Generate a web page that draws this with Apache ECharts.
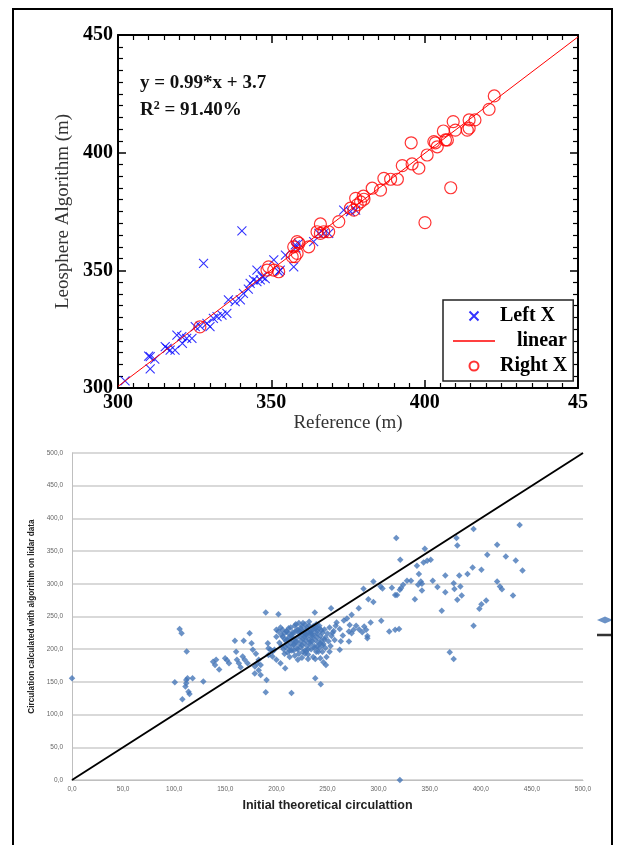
<!DOCTYPE html>
<html>
<head>
<meta charset="utf-8">
<script src="https://cdn.jsdelivr.net/npm/echarts@6/dist/echarts.min.js"></script>
<style>html,body{margin:0;padding:0;background:#fff}#c{width:618px;height:845px}</style>
</head>
<body>
<div id="c"></div>
<script>
// ---------- Top chart data ----------
const topXTicks = ['300', '350', '400', '45'];
const topYTicks = ['300', '350', '400', '450'];
const leftXRef = [302.3,310.5,310,312,310.5,315.4,317,318.6,316,319.2,320.8,322.4,324.1,325.2,326.8,329,330,331.1,332.3,333.9,335.5,336,338.2,339.9,340.9,343.1,344.2,345.3,346.4,347,345.3,327.9,340.4,350.8,352.4,352.9,357.3,357.8,358.9,354.6,363.8,365.5,367.1,368.7,373.6,375.8,377.5,358,342.5,348,321];
const leftXAlg = [303.0,313.3,313.5,312.3,308.1,317.6,316.1,316.1,316.8,322.5,321.8,321.1,321.1,326.1,326.3,327.5,326.1,329.6,330.3,331,331.7,337.4,336.7,337.4,340.2,344.5,345.9,345.2,345.9,347.3,350.1,353.0,366.8,354.4,349.4,350.1,351.5,360.8,361.5,356.5,362.2,365.7,365.7,365.7,375.6,374.9,375.6,359.5,342,346.5,319];
const rightXRef = [326.7,349.1,350.8,348.6,352.4,356.8,357.7,358.4,357.3,358.4,359,362.2,364.9,366,367.1,368.7,366,372,375.8,376.9,378,379.1,377.5,380.2,380,382.9,385.6,386.7,388.9,391.1,392.7,395.9,398.1,400.8,403.5,404.1,403,406.8,407.4,406.1,410,409.3,413.9,414.5,416.4,414.5,421,422.7,395.6,408.5,400.1];
const rightXAlg = [326,351.5,350.1,350.1,349.4,355.8,355.8,357.2,360,362.2,361.5,360,366.4,365.7,366.4,366.4,369.7,370.7,376.4,375.6,377.8,379.1,380.6,380.2,381.5,384.9,384.1,389.1,388.7,388.7,394.5,395.2,393.4,399,404.2,402.5,404.7,405.4,405.4,409.2,409.6,413.2,409.6,413.9,413.9,410.4,418.4,424.1,404.2,385.1,370.3];
const linearRef = [300, 450];
const linearAlg = [300.7, 449.2];

// ---------- Bottom chart data ----------
const botTicks = ['0,0','50,0','100,0','150,0','200,0','250,0','300,0','350,0','400,0','450,0','500,0'];
const circX = [0,100.6,105.3,107.2,112.2,108,111.8,111.8,113,111,114,115,118,128.5,
138,140,144,141,149.8,151.7,153.6,159.4,160.6,161.4,163.3,165,167,169,171.8,168,173.8,175.7,176.9,180,182.7,179,181,184.6,182.7,178.8,184.6,189.6,190.4,189.6,191.6,192.3,194.3,196.2,192.3,196.2,200,198.1,202,200,202,204,206,208,200,206,209.9,204,208.6,214.8,
203,205,207,209,210,211,212,213,214,215,215,216,217,218,218,219,220,220,221,222,222,223,224,224,225,225,226,227,227,228,229,229,230,230,231,232,232,233,233,234,235,235,236,236,237,237,238,239,239,240,240,241,242,242,243,244,245,245,246,247,248,248,250,251,252,253,254,256,257,212,219,226,231,213,221,238,243,208,217,228,223,229,234,240,226,231,
205,208,210,212,214,216,218,220,222,224,226,228,230,232,234,236,238,240,242,244,211,215,219,223,227,231,235,239,243,247,209,213,217,221,225,229,233,237,241,245,
237.6,238,243.4,248.5,253.5,258.9,262,269,271.7,270.9,271,273.6,275.5,273.6,280.6,285.2,285.9,287.8,289,289,290,294.9,294.9,292.2,301.9,303.8,302.6,310.4,313,316.2,318,317.3,316.2,320,321.2,322,320.8,320.8,324,327.8,331.7,335.5,337.5,339.4,338.7,341.3,342.4,342.4,344,347.5,345.2,351,353,357.6,361.8,365.3,365.3,369.6,373.5,373.5,374.2,376.2,377,377,380,378.9,381.3,387,392,392.9,392.9,398.6,400.6,400.6,405.3,406.3,416,416,418.7,420.7,424.5,431.5,434.2,438,440.8,
255,258,262,265,266,278,281,284,263,252,249,246];
const circY = [155.6,149.5,231,224.5,196.4,123.5,153,148,155.6,143,135,131.6,155.6,150.5,
181,176,169,184,186,183,178.6,213,196,184,178.6,172.4,189,184,178.6,213,224.5,209,199,193,184,173.5,178.6,176,168,163,160.7,256,153,134,209,201.5,199,196.4,191,189,184,199,253.6,229.6,227,233,229.6,224.5,219,219,227,178.6,171,133,
210,205,200,213,207,195,218,203,209,222,198,214,206,226,190,211,217,201,230,208,193,220,213,203,235,187,216,209,224,198,213,230,205,220,192,215,236,208,226,200,218,212,230,188,222,205,214,238,196,218,228,210,202,232,220,214,225,196,208,230,218,202,224,212,233,205,220,228,214,232,238,240,185,188,184,185,186,193,198,193,228,222,224,204,196,200,
222,216,228,224,233,226,236,229,240,232,227,238,233,242,228,235,231,224,236,229,214,219,212,224,219,226,221,233,209,215,203,198,207,200,206,197,211,202,196,206,
256,155.6,146.4,176,262.8,241,199,247,237,227,211.7,252.6,229.6,224.5,262.8,292.3,234.7,229.6,220,216.8,276.5,272,303.6,240.8,296,293,243.4,227,294,283,283,370,229.6,231,336.7,293.4,291,0,298.5,304.6,304.6,276.5,327.6,314.8,298.5,303.6,300,289.8,332.6,335.2,353.6,336.7,304.6,295,258.7,312.8,287.2,195.4,185,301,292,370,358.7,275.5,296,312.8,282,314.8,325,383.7,235.7,261.7,268.9,321.4,274.5,344.4,359.7,303.6,296,291.8,341.8,282,335.7,390,320.4,
225,236,231,221,244,236,230,226,212,196,188,180];
const idealX = [0, 500];
const idealY = [0, 500];

const zip = (a, b) => a.map((v, i) => [v, b[i]]);

const serif = 'Liberation Serif';
const lineIcon = 'path://M0,0L40,0L40,1.4L0,1.4Z';
const thickLineIcon = 'path://M0,0L16,0L16,2.5L0,2.5Z';
const topTickCommon = {
  axisLine: { show: true, lineStyle: { color: '#000', width: 2 } },
  axisTick: { show: true, inside: true, length: 8, lineStyle: { color: '#000', width: 1.5 } },
  minorTick: { show: true, splitNumber: 10, length: 5, lineStyle: { color: '#000', width: 1.2 } },
  splitLine: { show: false },
  min: 300, max: 450, interval: 50
};

const chart = echarts.init(document.getElementById('c'), null, { renderer: 'canvas' });
chart.setOption({
  backgroundColor: '#fff',
  animation: false,
  grid: [
    { left: 118, top: 35, width: 460, height: 353, containLabel: false, outerBoundsMode: 'none' },
    { left: 72, top: 453, width: 511, height: 327, containLabel: false, outerBoundsMode: 'none' }
  ],
  xAxis: [
    Object.assign({}, topTickCommon, {
      type: 'value', gridIndex: 0, position: 'bottom',
      name: 'Reference (m)', nameLocation: 'middle', nameGap: 20,
      nameTextStyle: { fontFamily: serif, fontSize: 19, color: '#333', verticalAlign: 'top' },
      axisLabel: { margin: 5, fontFamily: serif, fontWeight: 'bold', fontSize: 20, color: '#000',
        formatter: v => topXTicks[Math.round((v - 300) / 50)] }
    }),
    Object.assign({}, topTickCommon, {
      type: 'value', gridIndex: 0, position: 'top', axisLabel: { show: false }
    }),
    {
      type: 'value', gridIndex: 1, min: 0, max: 500, interval: 50,
      name: 'Initial theoretical circulattion', nameLocation: 'middle', nameGap: 19,
      nameTextStyle: { fontFamily: 'Liberation Sans', fontWeight: 'bold', fontSize: 12.5, color: '#222', verticalAlign: 'top' },
      axisLine: { show: true, lineStyle: { color: '#bfbfbf', width: 1 } },
      axisTick: { show: false },
      splitLine: { show: false },
      axisLabel: { margin: 6, fontFamily: 'Liberation Sans', fontSize: 6.5, color: '#666',
        formatter: v => botTicks[Math.round(v / 50)] }
    }
  ],
  yAxis: [
    Object.assign({}, topTickCommon, {
      type: 'value', gridIndex: 0, position: 'left',
      name: 'Leosphere Algorithm (m)', nameLocation: 'middle', nameGap: 43,
      nameTextStyle: { fontFamily: serif, fontSize: 19, color: '#333' },
      axisLabel: { margin: 5, fontFamily: serif, fontWeight: 'bold', fontSize: 20, color: '#000',
        formatter: v => topYTicks[Math.round((v - 300) / 50)] }
    }),
    Object.assign({}, topTickCommon, {
      type: 'value', gridIndex: 0, position: 'right', axisLabel: { show: false }
    }),
    {
      type: 'value', gridIndex: 1, min: 0, max: 500, interval: 50,
      name: 'Circulation calculated with algorithm on lidar data', nameLocation: 'middle', nameGap: 31,
      nameTextStyle: { fontFamily: 'Liberation Sans', fontWeight: 'bold', fontSize: 8.2, color: '#222' },
      axisLine: { show: true, lineStyle: { color: '#bfbfbf', width: 1 } },
      axisTick: { show: false },
      splitLine: { show: true, lineStyle: { color: '#d9d9d9', width: 2 } },
      axisLabel: { margin: 9, fontFamily: 'Liberation Sans', fontSize: 6.5, color: '#666',
        formatter: v => botTicks[Math.round(v / 50)] }
    }
  ],
  legend: [
    {
      data: [{ name: 'Left X' }, { name: 'linear', icon: lineIcon, itemStyle: { color: '#ff0000' } }, { name: 'Right X' }],
      orient: 'vertical', left: 443, top: 300,
      itemWidth: 42, itemHeight: 9, itemGap: 5,
      padding: [6, 6, 5, 10],
      borderColor: '#222', borderWidth: 1.5, backgroundColor: '#fff',
      selectedMode: false,
      textStyle: { fontFamily: serif, fontWeight: 'bold', fontSize: 20, color: '#000',
        rich: { p: { fontFamily: serif, fontWeight: 'bold', fontSize: 20, color: '#000', padding: [0, 0, 0, 17] } } },
      formatter: n => n === 'linear' ? '{p|linear}' : n
    },
    {
      data: [{ name: 'Series1' }, { name: 'Series2', icon: thickLineIcon, itemStyle: { color: '#333', opacity: 1 } }],
      orient: 'vertical', left: 597, top: 616,
      itemWidth: 16, itemHeight: 7, itemGap: 7, padding: 0,
      selectedMode: false,
      textStyle: { fontFamily: 'Liberation Sans', fontSize: 8, color: '#e36c09' }
    }
  ],
  series: [
    {
      name: 'Left X', type: 'scatter', xAxisIndex: 0, yAxisIndex: 0,
      symbol: 'path://M0,0L10,10M10,0L0,10', symbolSize: 9, symbolKeepAspect: true,
      itemStyle: { color: 'rgba(0,0,0,0)', borderColor: '#0000ff', borderWidth: 1.1 },
      data: zip(leftXRef, leftXAlg), z: 3
    },
    {
      name: 'linear', type: 'line', xAxisIndex: 0, yAxisIndex: 0,
      symbol: 'none', lineStyle: { color: '#ff0000', width: 1 }, itemStyle: { color: '#ff0000' },
      data: zip(linearRef, linearAlg), z: 4
    },
    {
      name: 'Right X', type: 'scatter', xAxisIndex: 0, yAxisIndex: 0,
      symbol: 'circle', symbolSize: 12,
      itemStyle: { color: 'rgba(0,0,0,0)', borderColor: '#ff0000', borderWidth: 1.2 },
      data: zip(rightXRef, rightXAlg), z: 5
    },
    {
      name: 'Series1', type: 'scatter', xAxisIndex: 2, yAxisIndex: 2,
      symbol: 'diamond', symbolSize: 6.5,
      itemStyle: { color: '#4677b8' },
      data: zip(circX, circY), z: 3
    },
    {
      name: 'Series2', type: 'line', xAxisIndex: 2, yAxisIndex: 2,
      symbol: 'none', lineStyle: { color: '#000', width: 2 }, itemStyle: { color: '#333' },
      data: zip(idealX, idealY), z: 4
    }
  ],
  graphic: [
    { type: 'rect', shape: { x: 13, y: 9, width: 599, height: 850 },
      style: { fill: 'none', stroke: '#000', lineWidth: 2 }, z: 100 },
    { type: 'text', left: 140, top: 74, z: 100,
      style: { text: 'y = 0.99*x + 3.7', font: 'bold 19px "Liberation Serif"', fill: '#111' } },
    { type: 'text', left: 140, top: 100, z: 100,
      style: { text: 'R{s|2} = 91.40%', font: 'bold 19px "Liberation Serif"', fill: '#111',
        rich: { s: { font: 'bold 12px "Liberation Serif"', fill: '#111', verticalAlign: 'top', padding: [0, 0, 8, 0] } } } }
  ]
});
</script>
</body>
</html>
